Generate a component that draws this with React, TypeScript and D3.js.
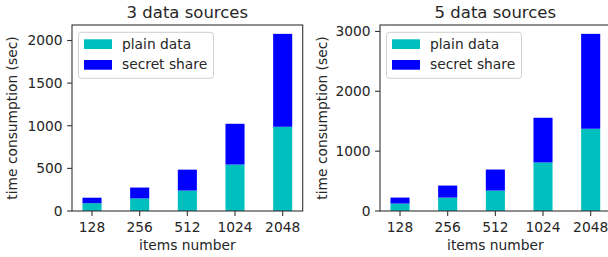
import React from "react";
import * as d3 from "d3";

const categories = ["128", "256", "512", "1024", "2048"];
const plain3 = [92, 148, 240, 545, 988];
const secret3 = [64, 127, 245, 478, 1090];
const plain5 = [124, 224, 342, 811, 1374];
const secret5 = [100, 201, 351, 747, 1586];
const ticks3 = [0, 500, 1000, 1500, 2000];
const ticks5 = [0, 1000, 2000, 3000];
const seriesNames = ["plain data", "secret share"];
const seriesColors = ["#00BFBF", "#0000FF"];

const FONT = "DejaVu Sans, sans-serif";
const TEXT = "#262626";
const FS = 13.8;

type PanelProps = {
  left: number;
  title: string;
  plain: number[];
  secret: number[];
  ticks: number[];
  ylabelX: number;
};

function Panel({ left, title, plain, secret, ticks, ylabelX }: PanelProps) {
  const top = 25;
  const bottom = 211;
  const width = 230.7;
  const totals = plain.map((p, i) => p + secret[i]);
  const ymax = (d3.max(totals) as number) * 1.05;
  const y = d3.scaleLinear().domain([0, ymax]).range([bottom, top]);
  const x = d3.scaleLinear().domain([-0.42, categories.length - 1 + 0.42]).range([left, left + width]);
  const bw = x(0.4) - x(0);
  const cx = (left + left + width) / 2;
  const cy = (top + bottom) / 2;
  return (
    <g>
      {categories.map((c, i) => (
        <g key={c}>
          <rect x={x(i) - bw / 2} y={y(plain[i])} width={bw} height={y(0) - y(plain[i])} fill={seriesColors[0]} />
          <rect x={x(i) - bw / 2} y={y(totals[i])} width={bw} height={y(plain[i]) - y(totals[i])} fill={seriesColors[1]} />
        </g>
      ))}
      <rect x={left} y={top} width={width} height={bottom - top} fill="none" stroke="#333" strokeWidth={1.1} />
      {ticks.map((t) => (
        <g key={t}>
          <line x1={left - 4.9} x2={left} y1={y(t)} y2={y(t)} stroke="#333" strokeWidth={1.1} />
          <text x={left - 9.5} y={y(t)} dy="0.36em" textAnchor="end" fontSize={FS} fill={TEXT} fontFamily={FONT}>
            {t}
          </text>
        </g>
      ))}
      {categories.map((c, i) => (
        <g key={c}>
          <line x1={x(i)} x2={x(i)} y1={bottom} y2={bottom + 4.9} stroke="#333" strokeWidth={1.1} />
          <text x={x(i)} y={232} textAnchor="middle" fontSize={FS} fill={TEXT} fontFamily={FONT}>
            {c}
          </text>
        </g>
      ))}
      <text x={cx} y={18} textAnchor="middle" fontSize={16.5} fill={TEXT} fontFamily={FONT}>
        {title}
      </text>
      <text x={cx} y={249.5} textAnchor="middle" fontSize={FS} fill={TEXT} fontFamily={FONT}>
        items number
      </text>
      <text
        transform={`translate(${ylabelX},${cy}) rotate(-90)`}
        textAnchor="middle"
        fontSize={FS}
        fill={TEXT}
        fontFamily={FONT}
      >
        time consumption (sec)
      </text>
      <g transform={`translate(${left + 6.5},32.3)`}>
        <rect x={0} y={0} width={135} height={46} rx={3} fill="white" fillOpacity={0.8} stroke="#d0d0d0" strokeWidth={1} />
        {seriesNames.map((s, i) => (
          <g key={s}>
            <rect x={5.5} y={7 + i * 20.7} width={28} height={9.7} fill={seriesColors[i]} />
            <text x={43.5} y={16.3 + i * 20.7} fontSize={FS} fill={TEXT} fontFamily={FONT}>
              {s}
            </text>
          </g>
        ))}
      </g>
    </g>
  );
}

export default function App() {
  return (
    <svg
      width={608}
      height={257}
      style={{ position: "absolute", left: 0, top: 0, background: "white" }}
    >
      <Panel left={72} title="3 data sources" plain={plain3} secret={secret3} ticks={ticks3} ylabelX={17} />
      <Panel left={380} title="5 data sources" plain={plain5} secret={secret5} ticks={ticks5} ylabelX={327} />
    </svg>
  );
}
